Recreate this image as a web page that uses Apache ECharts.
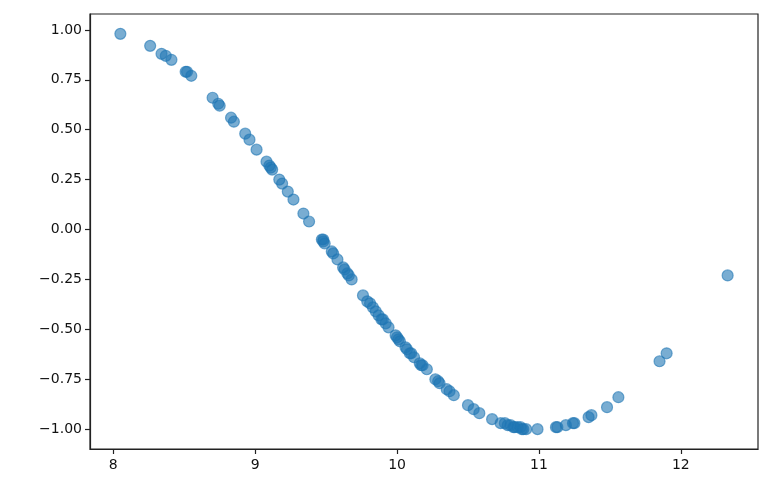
<!DOCTYPE html>
<html>
<head>
<meta charset="utf-8">
<script src="https://cdn.jsdelivr.net/npm/echarts@6/dist/echarts.min.js"></script>
<style>html,body{margin:0;padding:0;background:#fff}#c{width:773px;height:496px}</style>
</head>
<body>
<div id="c"></div>
<script>
const xValues = [8.05, 8.26, 8.34, 8.37, 8.41, 8.51, 8.52, 8.55, 8.70, 8.74, 8.75, 8.83, 8.85, 8.93, 8.96, 9.01, 9.08, 9.10, 9.11, 9.12, 9.17, 9.19, 9.23, 9.27, 9.34, 9.38, 9.47, 9.48, 9.48, 9.49, 9.54, 9.55, 9.58, 9.62, 9.63, 9.65, 9.66, 9.68, 9.76, 9.79, 9.81, 9.83, 9.85, 9.87, 9.89, 9.90, 9.92, 9.94, 9.99, 10.00, 10.01, 10.02, 10.06, 10.07, 10.09, 10.10, 10.12, 10.16, 10.17, 10.18, 10.21, 10.27, 10.29, 10.30, 10.35, 10.37, 10.40, 10.50, 10.54, 10.58, 10.67, 10.73, 10.76, 10.78, 10.80, 10.82, 10.83, 10.85, 10.87, 10.88, 10.89, 10.91, 10.99, 11.12, 11.13, 11.19, 11.24, 11.25, 11.35, 11.37, 11.48, 11.56, 11.85, 11.90, 12.33];
const yValues = [0.98, 0.92, 0.88, 0.87, 0.85, 0.79, 0.79, 0.77, 0.66, 0.63, 0.62, 0.56, 0.54, 0.48, 0.45, 0.40, 0.34, 0.32, 0.31, 0.30, 0.25, 0.23, 0.19, 0.15, 0.08, 0.04, -0.05, -0.05, -0.06, -0.07, -0.11, -0.12, -0.15, -0.19, -0.20, -0.22, -0.23, -0.25, -0.33, -0.36, -0.37, -0.39, -0.41, -0.43, -0.45, -0.45, -0.47, -0.49, -0.53, -0.54, -0.55, -0.56, -0.59, -0.60, -0.62, -0.62, -0.64, -0.67, -0.68, -0.68, -0.70, -0.75, -0.76, -0.77, -0.80, -0.81, -0.83, -0.88, -0.90, -0.92, -0.95, -0.97, -0.97, -0.98, -0.98, -0.99, -0.99, -0.99, -0.99, -1.00, -1.00, -1.00, -1.00, -0.99, -0.99, -0.98, -0.97, -0.97, -0.94, -0.93, -0.89, -0.84, -0.66, -0.62, -0.23];
const xTicks = [8, 9, 10, 11, 12];
const yTicks = [-1.00, -0.75, -0.50, -0.25, 0.00, 0.25, 0.50, 0.75, 1.00];

const points = xValues.map((x, i) => [x, yValues[i]]);
const font = 'DejaVu Sans';
const fmtY = v => (v < 0 ? '\u2212' : '') + Math.abs(v).toFixed(2);

const chart = echarts.init(document.getElementById('c'), null, {renderer: 'canvas'});
chart.setOption({
  animation: false,
  backgroundColor: '#ffffff',
  grid: {left: 90, right: 15, top: 14, bottom: 47, show: true, borderColor: '#222', borderWidth: 1.2, backgroundColor: 'transparent'},
  xAxis: {
    type: 'value', min: 7.836, max: 12.544,
    splitLine: {show: false},
    axisLine: {show: true, onZero: false, lineStyle: {color: '#222', width: 1.2}},
    axisTick: {show: true, length: 5, lineStyle: {color: '#222', width: 1.2}, customValues: xTicks},
    axisLabel: {color: '#111', fontFamily: font, fontSize: 14, margin: 9, customValues: xTicks, formatter: v => String(Math.round(v))}
  },
  yAxis: {
    type: 'value', min: -1.0995, max: 1.0795,
    splitLine: {show: false},
    axisLine: {show: true, onZero: false, lineStyle: {color: '#222', width: 1.2}},
    axisTick: {show: true, length: 5, lineStyle: {color: '#222', width: 1.2}, customValues: yTicks},
    axisLabel: {color: '#111', fontFamily: font, fontSize: 14, margin: 8, customValues: yTicks, formatter: fmtY}
  },
  series: [{
    type: 'scatter',
    data: points,
    symbol: 'circle',
    symbolSize: 11,
    itemStyle: {color: 'rgba(31,119,180,0.6)', borderColor: 'rgba(31,119,180,0.6)', borderWidth: 1.2, opacity: 1}
  }]
});
</script>
</body>
</html>
